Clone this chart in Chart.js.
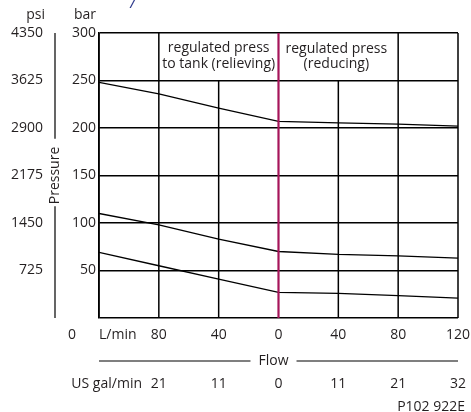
<!DOCTYPE html>
<html>
<head>
<meta charset="utf-8">
<script src="https://cdn.jsdelivr.net/npm/chart.js@4/dist/chart.umd.min.js"></script>
<style>
  html, body { margin: 0; padding: 0; background: #fff; }
  #wrap { width: 471px; height: 412px; position: relative; }
</style>
</head>
<body>
<div id="wrap"><canvas id="pressureChart"></canvas></div>
<script>
// flow in L/min, left half = to tank (relieving), right half = reducing
const flowTicks = [-120, -80, -40, 0, 40, 80, 120];
const lpmLabels = ['', '80', '40', '0', '40', '80', '120'];
const galLabels = ['', '21', '11', '0', '11', '21', '32'];
const barTicks = [0, 50, 100, 150, 200, 250, 300];
const psiTicks = [0, 725, 1450, 2175, 2900, 3625, 4350];

const flow = [-120, -80, -40, 0, 40, 80, 120];
const upperCurve = [248, 236, 221, 207, 205.5, 204, 202];
const middleCurve = [110, 98, 83, 70, 67, 65.5, 63];
const lowerCurve = [69, 55, 41, 27, 26, 23.5, 21];

const FONT = '"Open Sans", "Noto Sans", sans-serif';
const TEXT = '#231f20';
const MAGENTA = '#a6155a';

function curve(values) {
    return {
        data: flow.map((f, i) => ({ x: f, y: values[i] })),
        borderColor: '#000',
        borderWidth: 1.3,
        pointRadius: 0,
        tension: 0,
        fill: false
    };
}

// keep the flow axes from reserving extra room for the end labels
function flowFit(h) {
    return s => {
        s.height = h;
        s.paddingLeft = 0;
        s.paddingRight = 0;
    };
}

const framePlugin = {
    id: 'frame',
    beforeDatasetsDraw(chart) {
        const { ctx, chartArea: a, scales: { x, y } } = chart;
        ctx.save();
        ctx.strokeStyle = '#000';
        ctx.lineWidth = 1.5;
        flowTicks.forEach(v => {
            if (v === 0) return;
            const px = x.getPixelForValue(v);
            // the +-40 lines stop under the region captions
            const top = Math.abs(v) === 40 ? y.getPixelForValue(250) : a.top;
            ctx.beginPath();
            ctx.moveTo(px, top);
            ctx.lineTo(px, a.bottom);
            ctx.stroke();
        });
        ctx.restore();
    },
    afterDatasetsDraw(chart) {
        const { ctx, chartArea: a, scales: { x, y, psi, gal } } = chart;
        ctx.save();
        // zero-flow divider
        ctx.strokeStyle = MAGENTA;
        ctx.lineWidth = 2.2;
        const x0 = x.getPixelForValue(0);
        ctx.beginPath();
        ctx.moveTo(x0, a.top);
        ctx.lineTo(x0, a.bottom);
        ctx.stroke();

        ctx.fillStyle = TEXT;
        ctx.font = '14px ' + FONT;
        ctx.textBaseline = 'middle';
        ctx.textAlign = 'center';
        const yA = y.getPixelForValue(284);
        const yB = y.getPixelForValue(267);
        const xl = x.getPixelForValue(-40);
        const xr = x.getPixelForValue(40) - 2;
        ctx.fillText('regulated press', xl, yA);
        ctx.fillText('to tank (relieving)', xl, yB);
        ctx.fillText('regulated press', xr, yA + 1);
        ctx.fillText('(reducing)', xr, yB);

        // unit headers
        ctx.textAlign = 'right';
        ctx.fillText('psi', psi.right - 2, 15);
        ctx.fillText('bar', y.right - 3, 15);

        // bottom row labels
        const rowL = x.top + 17;
        ctx.textAlign = 'center';
        ctx.fillText('0', y.left + 25, rowL);
        ctx.textAlign = 'left';
        ctx.fillText('L/min', a.left, rowL);
        ctx.textAlign = 'right';
        ctx.fillText('US gal/min', a.left + 43, gal.top + 14);
        ctx.fillText('P102 922E', a.right + 7, gal.bottom + 12);

        // Pressure rule with a gap for the title
        ctx.strokeStyle = '#000';
        ctx.lineWidth = 1.2;
        const px = y.left + 8;
        const mid = (a.top + a.bottom) / 2 - 3;
        const half = ctx.measureText('Pressure').width / 2 + 5;
        ctx.beginPath();
        ctx.moveTo(px, a.top);
        ctx.lineTo(px, mid - half);
        ctx.moveTo(px, mid + half);
        ctx.lineTo(px, a.bottom);
        ctx.stroke();

        // Flow rule with a gap for the title
        const fy = x.bottom - 9;
        const fx = (a.left + a.right) / 2 - 5;
        const fw = ctx.measureText('Flow').width / 2 + 8;
        ctx.beginPath();
        ctx.moveTo(a.left, fy);
        ctx.lineTo(fx - fw, fy);
        ctx.moveTo(fx + fw, fy);
        ctx.lineTo(a.right, fy);
        ctx.stroke();
        ctx.textAlign = 'center';
        ctx.fillText('Flow', fx, fy);

        // cropped title glyph at the very top
        ctx.fillStyle = '#2e3a8c';
        ctx.font = 'italic 16px ' + FONT;
        ctx.fillText('/', 133, 3);
        ctx.restore();
    }
};

new Chart(document.getElementById('pressureChart'), {
    type: 'line',
    data: {
        datasets: [curve(upperCurve), curve(middleCurve), curve(lowerCurve)]
    },
    options: {
        responsive: true,
        maintainAspectRatio: false,
        animation: false,
        layout: { padding: { top: 33, right: 13, bottom: 17, left: 0 } },
        plugins: { legend: { display: false }, tooltip: { enabled: false } },
        scales: {
            x: {
                type: 'linear',
                position: 'bottom',
                min: -120,
                max: 120,
                afterBuildTicks: s => { s.ticks = flowTicks.map(v => ({ value: v })); },
                afterFit: flowFit(52),
                ticks: {
                    callback: (v, i) => lpmLabels[i],
                    color: TEXT,
                    font: { family: FONT, size: 14 },
                    padding: 9,
                    maxRotation: 0
                },
                grid: { display: false, drawTicks: false },
                border: { display: false }
            },
            gal: {
                type: 'linear',
                position: 'bottom',
                weight: 1,
                min: -120,
                max: 120,
                afterBuildTicks: s => { s.ticks = flowTicks.map(v => ({ value: v })); },
                afterFit: flowFit(25),
                ticks: {
                    callback: (v, i) => galLabels[i],
                    color: TEXT,
                    font: { family: FONT, size: 14 },
                    padding: 6,
                    maxRotation: 0
                },
                grid: { display: false, drawTicks: false },
                border: { display: false }
            },
            y: {
                position: 'left',
                weight: 0,
                min: 0,
                max: 300,
                afterBuildTicks: s => { s.ticks = barTicks.map(v => ({ value: v })); },
                afterFit: s => { s.width = 52; },
                ticks: {
                    callback: v => (v === 0 ? '' : v),
                    color: TEXT,
                    font: { family: FONT, size: 14 },
                    padding: 3
                },
                grid: { color: '#000', lineWidth: 1.5, drawTicks: false },
                border: { display: true, color: '#000', width: 1.5 },
                title: {
                    display: true,
                    text: 'Pressure',
                    color: TEXT,
                    font: { family: FONT, size: 14 },
                    padding: 0
                }
            },
            psi: {
                position: 'left',
                weight: 1,
                min: 0,
                max: 4350,
                afterBuildTicks: s => { s.ticks = psiTicks.map(v => ({ value: v })); },
                afterFit: s => { s.width = 47; },
                ticks: {
                    callback: v => (v === 0 ? '' : v),
                    color: TEXT,
                    font: { family: FONT, size: 14 },
                    padding: 4
                },
                grid: { display: false, drawTicks: false },
                border: { display: false }
            }
        }
    },
    plugins: [framePlugin]
});
</script>
</body>
</html>
